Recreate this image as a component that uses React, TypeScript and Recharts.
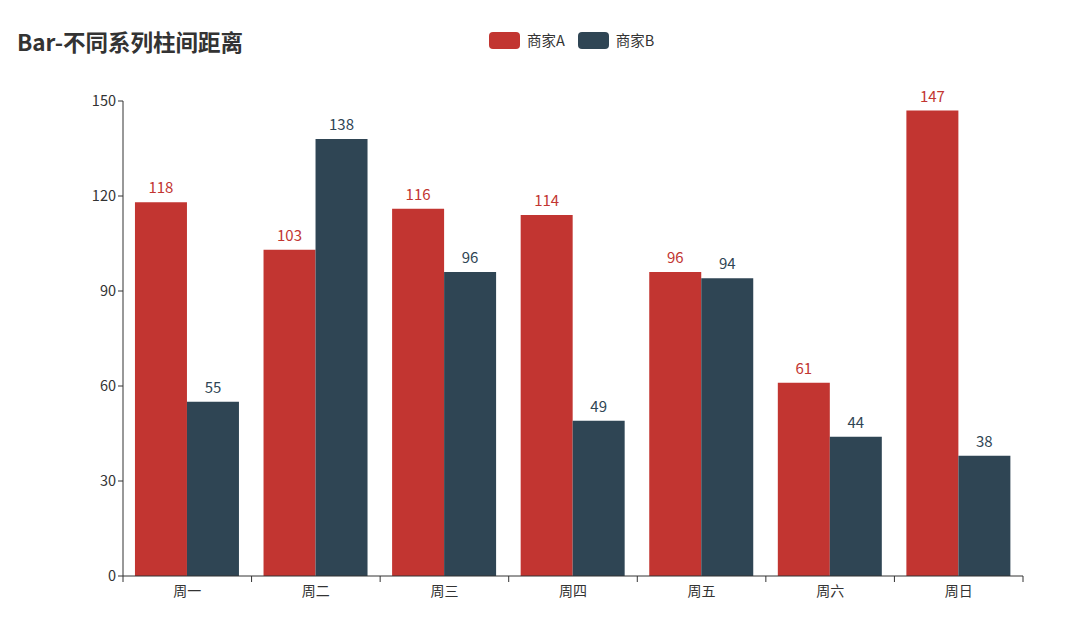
import React from "react";
import { BarChart, Bar, XAxis, YAxis, LabelList } from "recharts";

const categories = ["周一", "周二", "周三", "周四", "周五", "周六", "周日"];
const seriesA = [118, 103, 116, 114, 96, 61, 147];
const seriesB = [55, 138, 96, 49, 94, 44, 38];
const yTicks = [0, 30, 60, 90, 120, 150];
const seriesNames = ["商家A", "商家B"];
const colors = ["#c23531", "#2f4554"];

const data = categories.map((c, i) => ({ name: c, a: seriesA[i], b: seriesB[i] }));

const W = 1074;
const H = 621;
const margin = { top: 101, right: 51, left: 63, bottom: 15 };
const plotW = W - 123 - margin.right;
const band = plotW / categories.length;
const FONT = "'Noto Sans CJK SC', 'Noto Sans', sans-serif";

const XTick = (props: any) => {
  const { x, y, payload, index } = props;
  const left = x - band / 2;
  const right = x + band / 2;
  return (
    <g>
      <line x1={left} y1={y - 8} x2={left} y2={y - 2} stroke="#333" />
      {index === categories.length - 1 && (
        <line x1={right} y1={y - 8} x2={right} y2={y - 2} stroke="#333" />
      )}
      <text x={x} y={y + 12} textAnchor="middle" fill="#333" fontSize={14} fontFamily={FONT}>
        {payload.value}
      </text>
    </g>
  );
};

export default function App() {
  return (
    <div style={{ position: "absolute", left: 0, top: 0, width: W, height: H, background: "#fff" }}>
      <div style={{ position: "absolute", left: 17, top: 24, fontFamily: FONT, fontSize: 22.5, fontWeight: 700, color: "#333", lineHeight: "34px" }}>
        Bar-不同系列柱间距离
      </div>
      <div style={{ position: "absolute", left: 489, top: 31, display: "flex", alignItems: "center", fontFamily: FONT, fontSize: 14.5, color: "#333", lineHeight: "18px" }}>
        {seriesNames.map((n, i) => (
          <div key={n} style={{ display: "flex", alignItems: "center", marginRight: 13 }}>
            <div style={{ width: 31, height: 17, borderRadius: 4, background: colors[i], marginRight: 7 }} />
            <span>{n}</span>
          </div>
        ))}
      </div>
      <BarChart width={W} height={H} data={data} margin={margin} barGap={0} barCategoryGap="9.3%">
        <XAxis
          dataKey="name"
          axisLine={{ stroke: "#333" }}
          tickLine={false}
          tick={<XTick />}
          height={30}
          interval={0}
        />
        <YAxis
          domain={[0, 150]}
          ticks={yTicks}
          width={60}
          axisLine={{ stroke: "#333" }}
          tickLine={{ stroke: "#333" }}
          tickSize={5}
          tick={{ fill: "#333", fontSize: 14.5, fontFamily: FONT }}
        />
        <Bar dataKey="a" name={seriesNames[0]} fill={colors[0]} isAnimationActive={false}>
          <LabelList dataKey="a" position="top" offset={9} fill={colors[0]} fontSize={15} fontFamily={FONT} />
        </Bar>
        <Bar dataKey="b" name={seriesNames[1]} fill={colors[1]} isAnimationActive={false}>
          <LabelList dataKey="b" position="top" offset={9} fill={colors[1]} fontSize={15} fontFamily={FONT} />
        </Bar>
      </BarChart>
    </div>
  );
}
